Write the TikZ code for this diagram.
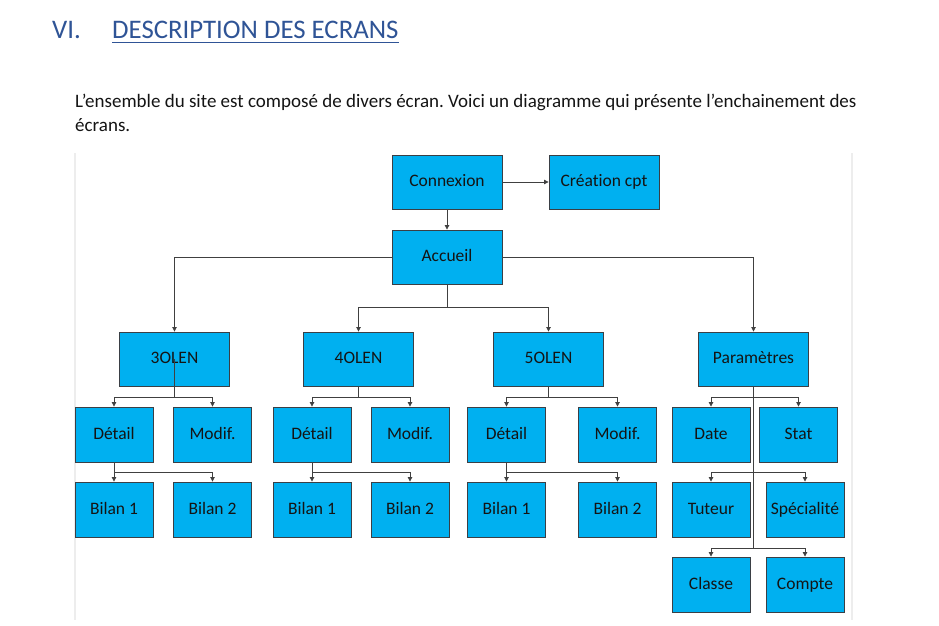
\documentclass[tikz,border=0pt]{standalone}
\usepackage{fontspec}
\setmainfont{Carlito}[Ligatures=NoCommon]
\usetikzlibrary{arrows.meta}
\frenchspacing
\definecolor{boxfill}{HTML}{00B0F0}
\definecolor{boxline}{HTML}{3A3F45}
\definecolor{conn}{HTML}{404040}
\definecolor{titleblue}{HTML}{2F5496}
\definecolor{txt}{HTML}{141414}
\definecolor{frame}{HTML}{EDEDED}
\tikzset{
  bigbox/.style={rectangle, fill=boxfill, draw=boxline, line width=0.9pt,
    minimum width=110pt, minimum height=54pt, inner sep=0pt,
    text height=12pt, text depth=2.5pt,
    font=\fontsize{17.5}{20}\selectfont, text=txt},
  smallbox/.style={bigbox, minimum width=78pt, minimum height=55pt},
  link/.style={draw=conn, line width=0.8pt},
  arr/.style={link, -{Triangle[width=4.5pt,length=4.5pt]}},
}
\begin{document}
\begin{tikzpicture}[x=1pt,y=-1pt]
\useasboundingbox[fill=white] (0,0) rectangle (939,626);
% title
\node[anchor=base west, text=titleblue, font=\fontsize{26.8}{30}\selectfont, inner sep=0pt] (vi) at (52,39) {VI.};
\node[anchor=base west, text=titleblue, font=\fontsize{26.8}{30}\selectfont, inner sep=0pt] (ttl) at (112,39) {DESCRIPTION DES ECRANS};
\draw[titleblue, line width=1.5pt] (ttl.base west) ++(0,3.5) coordinate (u1) -- (ttl.base east |- u1);
% body text
\node[anchor=base west, text=txt, font=\fontsize{19}{22}\selectfont, inner sep=0pt] (p1) at (75,107) {L’ensemble du site est composé de divers écran. Voici un diagramme qui présente l’enchainement des};
\node[anchor=base west, text=txt, font=\fontsize{19}{22}\selectfont, inner sep=0pt] (p2) at (75,131) {écrans.};
% canvas frame
\draw[frame, line width=1.2pt] (75,153) coordinate (fa) -- (75,620) coordinate (fb);
\draw[frame, line width=1.2pt] (852,153) coordinate (fc) -- (852,620) coordinate (fd);
% boxes
\node[bigbox] (con) at (447,182) {Connexion};
\node[bigbox] (cre) at (604,182) {Création cpt};
\node[bigbox] (acc) at (447,257) {Accueil};
\node[bigbox] (l3) at (174.5,359) {3OLEN};
\node[bigbox] (l4) at (358.5,359) {4OLEN};
\node[bigbox] (l5) at (548.5,359) {5OLEN};
\node[bigbox] (par) at (753.5,359) {Paramètres};
\node[smallbox] (d3) at (114,434.5) {Détail};
\node[smallbox] (m3) at (212.5,434.5) {Modif.};
\node[smallbox] (b31) at (114,509.5) {Bilan 1};
\node[smallbox] (b32) at (212.5,509.5) {Bilan 2};
\node[smallbox] (d4) at (312,434.5) {Détail};
\node[smallbox] (m4) at (410,434.5) {Modif.};
\node[smallbox] (b41) at (312,509.5) {Bilan 1};
\node[smallbox] (b42) at (410,509.5) {Bilan 2};
\node[smallbox] (d5) at (506.5,434.5) {Détail};
\node[smallbox] (m5) at (617.5,434.5) {Modif.};
\node[smallbox] (b51) at (506.5,509.5) {Bilan 1};
\node[smallbox] (b52) at (617.5,509.5) {Bilan 2};
\node[smallbox] (dat) at (711,434.5) {Date};
\node[smallbox] (sta) at (798.5,434.5) {Stat};
\node[smallbox] (tut) at (711,509.5) {Tuteur};
\node[smallbox] (spe) at (805,509.5) {Spécialité};
\node[smallbox] (cla) at (711,584.5) {Classe};
\node[smallbox] (cpt) at (805,584.5) {Compte};
% connectors top
\draw[arr] (con.east) -- (cre.west);
\draw[arr] (con.south) -- (acc.north);
\draw[arr] (acc.west) -| (l3.north);
\draw[arr] (acc.east) -| (par.north);
\coordinate (ja) at (447,307);
\draw[link] (acc.south) -- (ja);
\draw[arr] (ja) -| (l4.north);
\draw[arr] (ja) -| (l5.north);
% 3OLEN
\coordinate (j3) at (174.5,397);
\draw[link] (l3.center) -- (j3);
\draw[arr] (j3) -| (d3.north);
\draw[arr] (j3) -| (m3.north);
\coordinate (k3) at (114,472);
\draw[link] (d3.south) -- (k3);
\draw[arr] (k3) -- (b31.north);
\draw[arr] (k3) -| (b32.north);
% 4OLEN
\coordinate (j4) at (358.5,397);
\draw[link] (l4.south) -- (j4);
\draw[arr] (j4) -| (d4.north);
\draw[arr] (j4) -| (m4.north);
\coordinate (k4) at (312,472);
\draw[link] (d4.south) -- (k4);
\draw[arr] (k4) -- (b41.north);
\draw[arr] (k4) -| (b42.north);
% 5OLEN
\coordinate (j5) at (548.5,397);
\draw[link] (l5.south) -- (j5);
\draw[arr] (j5) -| (d5.north);
\draw[arr] (j5) -| (m5.north);
\coordinate (k5) at (506.5,472);
\draw[link] (d5.south) -- (k5);
\draw[arr] (k5) -- (b51.north);
\draw[arr] (k5) -| (b52.north);
% Parametres
\coordinate (p1j) at (753.5,397);
\coordinate (p2j) at (753.5,472);
\coordinate (p3j) at (753.5,548);
\draw[link] (par.south) -- (p3j);
\draw[arr] (p1j) -| (dat.north);
\draw[arr] (p1j) -| (sta.north);
\draw[arr] (p2j) -| (tut.north);
\draw[arr] (p2j) -| (spe.north);
\draw[arr] (p3j) -| (cla.north);
\draw[arr] (p3j) -| (cpt.north);
\end{tikzpicture}
\end{document}
